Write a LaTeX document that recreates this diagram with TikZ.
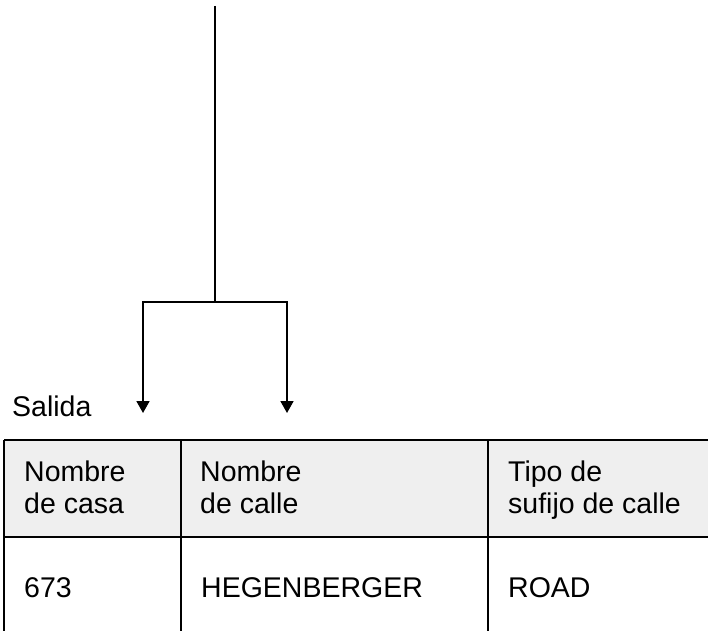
\documentclass[tikz,border=0pt]{standalone}
\usepackage{fontspec}
\setmainfont{Liberation Sans}
\usetikzlibrary{arrows.meta}
\definecolor{headgray}{HTML}{EFEFEF}
\tikzset{
  wire/.style={line width=1.8pt, draw=black},
  arr/.style={wire, -{Triangle[length=12pt,width=13pt]}},
  grid/.style={line width=1.8pt, draw=black},
  label/.style={inner sep=0pt, anchor=base west, align=left,
    font=\fontsize{28.5}{32}\selectfont}
}
\begin{document}
\begin{tikzpicture}[x=1pt,y=-1pt]
  \useasboundingbox (0,0) rectangle (708,631);

  % splitter wiring
  \coordinate (top) at (215,6);
  \coordinate (split) at (215,302);
  \coordinate (outA) at (143,413);
  \coordinate (outB) at (287,413);
  \draw[wire] (top) -- (split);
  \draw[arr] (split) -| (outA);
  \draw[arr] (split) -| (outB);

  \node[label] (salida) at (12,416.5) {Salida};

  % output table
  \fill[headgray] (4,440) rectangle (708,537);
  \draw[grid] (4,440) -- (708,440);
  \draw[grid] (4,537) -- (708,537);
  \draw[grid] (4,440) -- (4,631);
  \draw[grid] (181,440) -- (181,631);
  \draw[grid] (488,440) -- (488,631);

  % header cells (anchored on the baseline of the second line)
  \node[label] (h1) at (24,513.5) {Nombre\\de casa};
  \node[label] (h2) at (200,513.5) {Nombre\\de calle};
  \node[label] (h3) at (508,513.5) {Tipo de\\sufijo de calle};

  \node[label] (d1) at (24,597) {673};
  \node[label] (d2) at (201,597) {HEGENBERGER};
  \node[label] (d3) at (508,597) {ROAD};
\end{tikzpicture}
\end{document}
